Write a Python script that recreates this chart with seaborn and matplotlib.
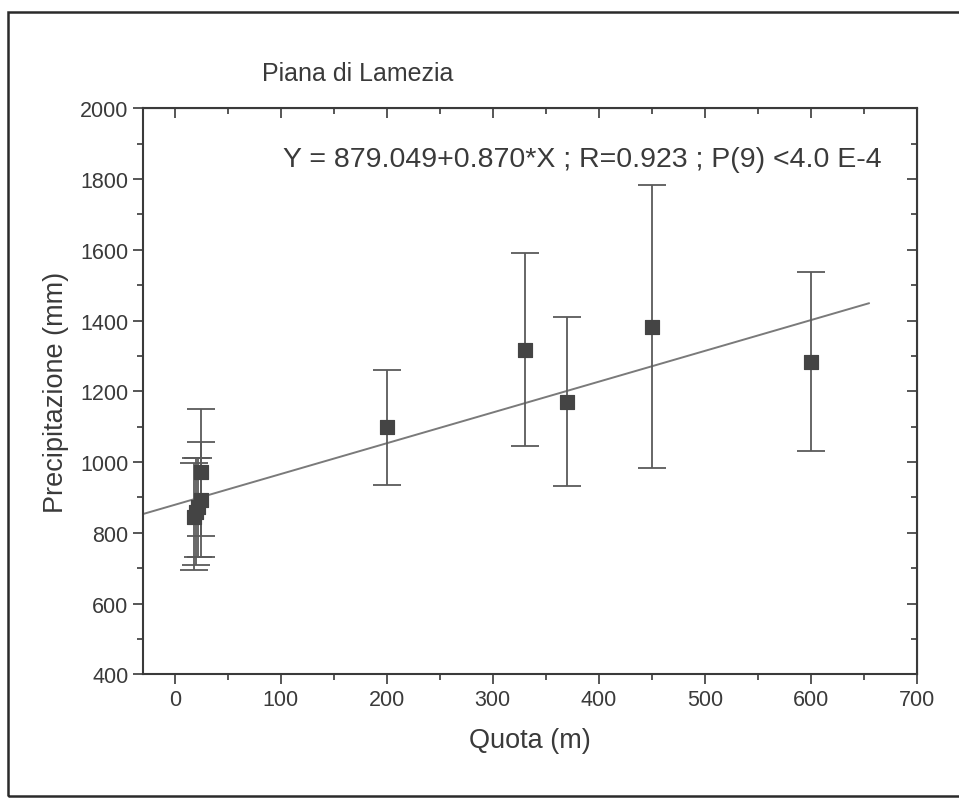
import numpy as np
import pandas as pd
import matplotlib
matplotlib.use("Agg")
import matplotlib.pyplot as plt
import seaborn as sns
from matplotlib.patches import Rectangle

# ==============================
# DATA
# ==============================
quota = [25, 25, 20, 18, 22, 200, 330, 370, 450, 600]
precip = [971, 894, 860, 846, 872, 1098, 1318, 1171, 1383, 1284]
err = [180, 162, 152, 150, 140, 163, 273, 240, 400, 253]

fit_x = [-30, 655]
intercept = 879.049
slope = 0.870

title_txt = "Piana di Lamezia"
eq_txt = "Y = 879.049+0.870*X ; R=0.923 ; P(9) <4.0 E-4"

# ==============================
# PLOT
# ==============================
sns.set_style("white")
plt.rcParams['font.family'] = ['Liberation Sans', 'DejaVu Sans']
ink = '#3a3a3a'

df = pd.DataFrame({'quota': quota, 'precip': precip, 'err': err})
fit = pd.DataFrame({'x': fit_x})
fit['y'] = intercept + slope * fit['x']

fig = plt.figure(figsize=(9.59, 8.03), dpi=100)
ax = fig.add_axes([0.149, 0.159, 0.807, 0.705])

sns.lineplot(data=fit, x='x', y='y', ax=ax, color='#7a7a7a', lw=1.4, zorder=2)
ax.errorbar(df['quota'], df['precip'], yerr=df['err'], fmt='none',
            ecolor='#5a5a5a', elinewidth=1.3, capsize=10, capthick=1.3, zorder=3)
sns.scatterplot(data=df, x='quota', y='precip', ax=ax, marker='s', s=110,
                color='#444444', edgecolor='#444444', zorder=4)

ax.set_xlim(-30, 700)
ax.set_ylim(400, 2000)
ax.set_xticks(range(0, 701, 100))
ax.set_xticks(range(0, 701, 50), minor=True)
ax.set_yticks(range(400, 2001, 200))
ax.set_yticks(range(400, 2001, 100), minor=True)

ax.tick_params(which='both', bottom=True, left=True, top=False, right=False,
               direction='out', colors=ink, labelsize=15.5, width=1.2)
ax.tick_params(which='major', length=7)
ax.tick_params(which='minor', length=4)
for s in ax.spines.values():
    s.set_color(ink)
    s.set_linewidth(1.5)

# mirrored ticks on top/right, pointing inward
top = ax.secondary_xaxis('top')
top.set_xticks(range(0, 701, 100))
top.set_xticks(range(0, 701, 50), minor=True)
top.tick_params(which='both', direction='in', labeltop=False, colors=ink, width=1.2)
top.tick_params(which='major', length=7)
top.tick_params(which='minor', length=4)
right = ax.secondary_yaxis('right')
right.set_yticks(range(400, 2001, 200))
right.set_yticks(range(400, 2001, 100), minor=True)
right.tick_params(which='both', direction='in', labelright=False, colors=ink, width=1.2)
right.tick_params(which='major', length=7)
right.tick_params(which='minor', length=4)

ax.set_xlabel("Quota (m)", fontsize=19.5, color=ink, labelpad=12)
ax.set_ylabel("Precipitazione (mm)", fontsize=19.5, color=ink, labelpad=8)

ax.text(0.955, 0.91, eq_txt, transform=ax.transAxes, ha='right', va='center',
        fontsize=20.5, color=ink)
fig.text(0.273, 0.908, title_txt, ha='left', va='center', fontsize=18, color=ink)

# outer frame of the scanned page
fig.patches.append(Rectangle((0.008, 0.008), 1.05, 0.976, transform=fig.transFigure,
                             fill=False, edgecolor='#2a2a2a', lw=1.8))

fig.savefig("out.png", dpi=100)
